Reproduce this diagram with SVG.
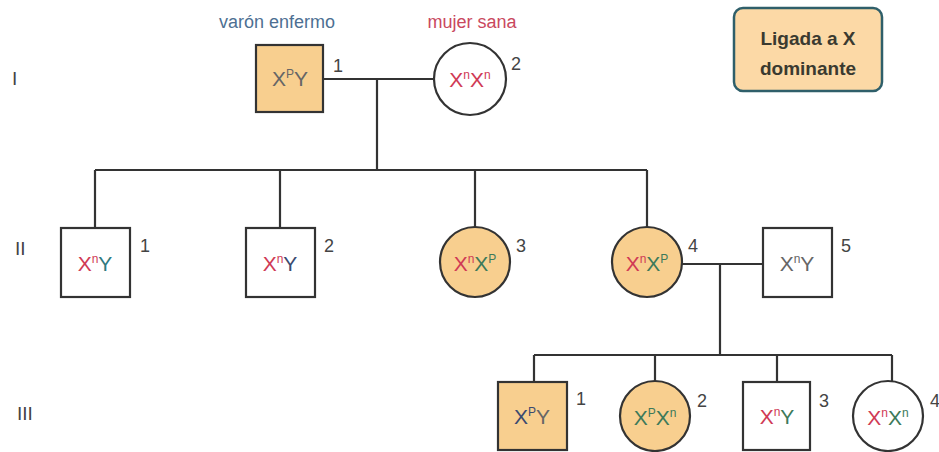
<svg xmlns="http://www.w3.org/2000/svg" width="939" height="452" viewBox="0 0 939 452">
<style>
.ln{stroke:#333;stroke-width:2.2;fill:none}
.aff{fill:#f8cf8f;stroke:#333;stroke-width:2.2}
.un{fill:#fff;stroke:#333;stroke-width:2.2}
.g{font-family:"Liberation Sans",Arial,sans-serif;font-size:21px;text-anchor:middle}
.s{font-size:12px}
.num{font-family:"Liberation Sans",Arial,sans-serif;font-size:18px;fill:#444}
.gen{font-family:"Liberation Sans",Arial,sans-serif;font-size:19px;fill:#444}
.r{fill:#d03a55}.gr{fill:#3d7a5a}.gy{fill:#666}.bl{fill:#3a4a70}.tl{fill:#2f7a80}
</style>
<rect width="939" height="452" fill="#fff"/>
<g id="generation-labels">
<text class="gen" x="12" y="85">I</text>
<text class="gen" x="15" y="255">II</text>
<text class="gen" x="17" y="420">III</text>
</g>
<g id="captions" font-family="Liberation Sans, Arial, sans-serif" font-size="18">
<text x="277" y="28" text-anchor="middle" fill="#4d6f92">varón enfermo</text>
<text x="472" y="28" text-anchor="middle" fill="#c9485e">mujer sana</text>
</g>
<g id="legend">
<rect x="734" y="8" width="148" height="83" rx="9" fill="#fcd9a6" stroke="#2f5f6a" stroke-width="2.5"/>
<text x="808" y="45" text-anchor="middle" font-family="Liberation Sans, Arial, sans-serif" font-size="19" font-weight="bold" fill="#3a3a30">Ligada a X</text>
<text x="808" y="75" text-anchor="middle" font-family="Liberation Sans, Arial, sans-serif" font-size="19" font-weight="bold" fill="#3a3a30">dominante</text>
</g>
<g id="connectors">
<path class="ln" d="M323 79H434M377 79V170M95 170H647M95 170V228M280 170V228M475 170V227M647 170V227M682 264H763M720 264V355M534 355H892M534 355V382M655 355V381M777 355V382M892 355V381"/>
</g>
<g id="I-1">
<rect class="aff" x="256" y="45" width="67" height="67"/>
<text class="g" x="290" y="86"><tspan class="gy">X</tspan><tspan class="gy s" dy="-8">P</tspan><tspan class="gy" dy="8">Y</tspan></text>
<text class="num" x="333" y="72">1</text>
</g>
<g id="I-2">
<circle class="un" cx="470" cy="79" r="36"/>
<text class="g" x="470" y="87"><tspan class="r">X</tspan><tspan class="r s" dy="-8">n</tspan><tspan class="r" dy="8">X</tspan><tspan class="r s" dy="-8">n</tspan></text>
<text class="num" x="511" y="70">2</text>
</g>
<g id="II-1">
<rect class="un" x="61" y="228" width="69" height="69"/>
<text class="g" x="95" y="271"><tspan class="r">X</tspan><tspan class="r s" dy="-8">n</tspan><tspan class="tl" dy="8">Y</tspan></text>
<text class="num" x="140" y="252">1</text>
</g>
<g id="II-2">
<rect class="un" x="246" y="228" width="69" height="69"/>
<text class="g" x="280" y="271"><tspan class="r">X</tspan><tspan class="r s" dy="-8">n</tspan><tspan class="bl" dy="8">Y</tspan></text>
<text class="num" x="324" y="252">2</text>
</g>
<g id="II-3">
<circle class="aff" cx="475" cy="262" r="35"/>
<text class="g" x="475" y="271"><tspan class="r">X</tspan><tspan class="r s" dy="-8">n</tspan><tspan class="gr" dy="8">X</tspan><tspan class="gr s" dy="-8">P</tspan></text>
<text class="num" x="516" y="252">3</text>
</g>
<g id="II-4">
<circle class="aff" cx="647" cy="262" r="35"/>
<text class="g" x="647" y="271"><tspan class="r">X</tspan><tspan class="r s" dy="-8">n</tspan><tspan class="gr" dy="8">X</tspan><tspan class="gr s" dy="-8">P</tspan></text>
<text class="num" x="688" y="252">4</text>
</g>
<g id="II-5">
<rect class="un" x="763" y="228" width="69" height="69"/>
<text class="g" x="797" y="271"><tspan class="gy">X</tspan><tspan class="gy s" dy="-8">n</tspan><tspan class="gy" dy="8">Y</tspan></text>
<text class="num" x="841" y="252">5</text>
</g>
<g id="III-1">
<rect class="aff" x="498" y="382" width="69" height="68"/>
<text class="g" x="532" y="424"><tspan class="bl">X</tspan><tspan class="bl s" dy="-8">P</tspan><tspan class="gy" dy="8">Y</tspan></text>
<text class="num" x="576" y="405">1</text>
</g>
<g id="III-2">
<circle class="aff" cx="655" cy="416" r="35"/>
<text class="g" x="655" y="425"><tspan class="gr">X</tspan><tspan class="gr s" dy="-8">P</tspan><tspan class="gr" dy="8">X</tspan><tspan class="gr s" dy="-8">n</tspan></text>
<text class="num" x="697" y="407">2</text>
</g>
<g id="III-3">
<rect class="un" x="743" y="382" width="67" height="68"/>
<text class="g" x="777" y="424"><tspan class="r">X</tspan><tspan class="r s" dy="-8">n</tspan><tspan class="gr" dy="8">Y</tspan></text>
<text class="num" x="819" y="407">3</text>
</g>
<g id="III-4">
<circle class="un" cx="888" cy="416" r="35"/>
<text class="g" x="888" y="425"><tspan class="r">X</tspan><tspan class="r s" dy="-8">n</tspan><tspan class="gr" dy="8">X</tspan><tspan class="gr s" dy="-8">n</tspan></text>
<text class="num" x="930" y="407">4</text>
</g>
</svg>
